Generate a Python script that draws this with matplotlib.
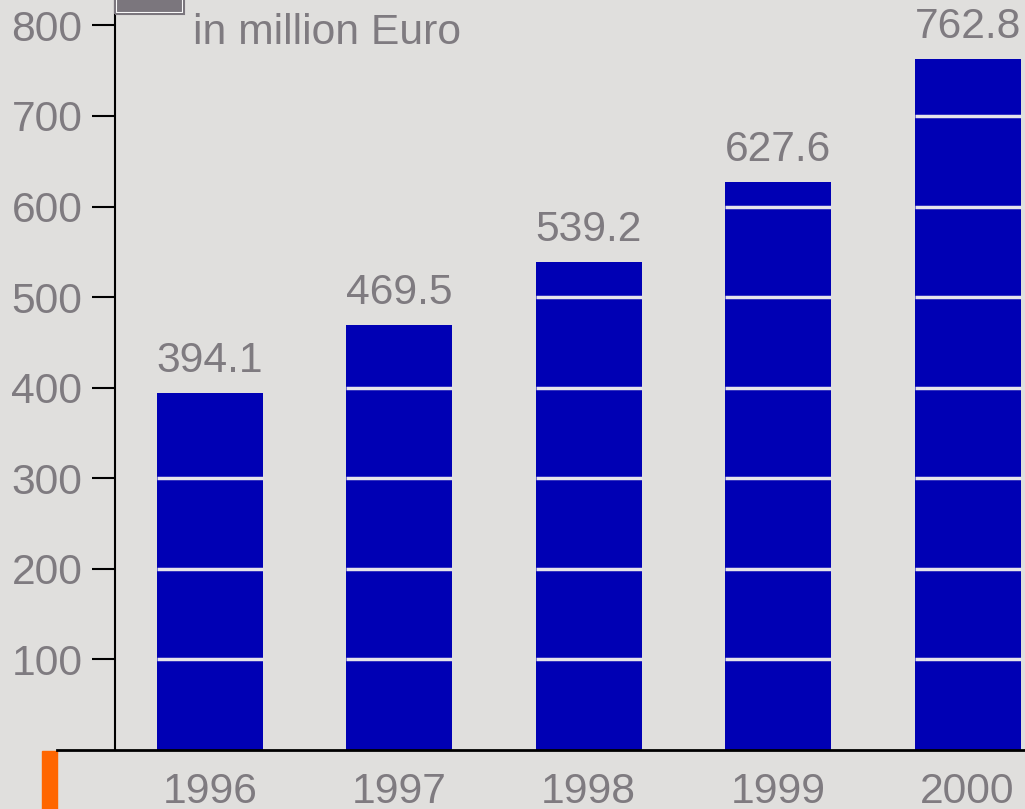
import matplotlib.pyplot as plt
from matplotlib.patches import Rectangle
from matplotlib.lines import Line2D
import numpy as np

plt.rcParams['font.family'] = ['Liberation Sans', 'DejaVu Sans']

years = ['1996', '1997', '1998', '1999', '2000']
revenue = [394.1, 469.5, 539.2, 627.6, 762.8]
yticks = [100, 200, 300, 400, 500, 600, 700, 800]

bg = '#e0dfdd'
grey = '#7f7b80'
bar_col = '#0000b4'
fs = 30.7

W, H = 1025, 809
fig = plt.figure(figsize=(W / 100, H / 100), dpi=100, facecolor=bg)
# axes: left spine at x=115px, baseline at y=750px
ax = fig.add_axes([115 / W, (H - 750) / H, (W - 115) / W, 750 / H])
ax.set_facecolor(bg)

x = np.arange(len(years))
width = 0.56
ax.bar(x, revenue, width, color=bar_col, zorder=2)

# white separators inside the bars every 100
for xi, v in zip(x, revenue):
    for t in yticks:
        if t < v - 5:
            ax.hlines(t, xi - width / 2, xi + width / 2, color='#e6e4ea', lw=2.5, zorder=3)
    ax.text(xi, v + 13, f'{v:.1f}', ha='center', va='bottom', fontsize=fs, color=grey)

ax.set_xlim(-0.5, 4.303)
ax.set_ylim(0, 828)
ax.set_yticks(yticks)
ax.set_yticklabels([str(t) for t in yticks], fontsize=fs, color=grey)
ax.set_xticks(x)
ax.set_xticklabels(years, fontsize=fs, color=grey)
ax.tick_params(axis='y', length=16.5, width=1.5, color='black', pad=7)
ax.tick_params(axis='x', length=0, pad=16)

for s in ['top', 'right', 'bottom']:
    ax.spines[s].set_visible(False)
ax.spines['left'].set_linewidth(1.5)

# baseline runs past the y axis to the left
fig.add_artist(Line2D([57 / W, 1.0], [(H - 750) / H] * 2, color='black', lw=2,
                      transform=fig.transFigure))
fig.add_artist(Rectangle((42 / W, 0), 15 / W, (H - 751) / H, color='#ff6600',
                         transform=fig.transFigure))

# legend key and unit note
fig.add_artist(Rectangle((116 / W, (H - 13) / H), 67 / W, 20 / H, facecolor='#7b767d',
                         edgecolor='white', lw=1.5, transform=fig.transFigure))
fig.add_artist(Rectangle((115 / W, (H - 14) / H), 69 / W, 22 / H, facecolor='none',
                         edgecolor='#7b767d', lw=1.5, transform=fig.transFigure))
fig.text(193 / W, (H - 33) / H, 'in million Euro', fontsize=fs, color=grey, va='center')

fig.savefig('out.png', dpi=100, facecolor=bg)
